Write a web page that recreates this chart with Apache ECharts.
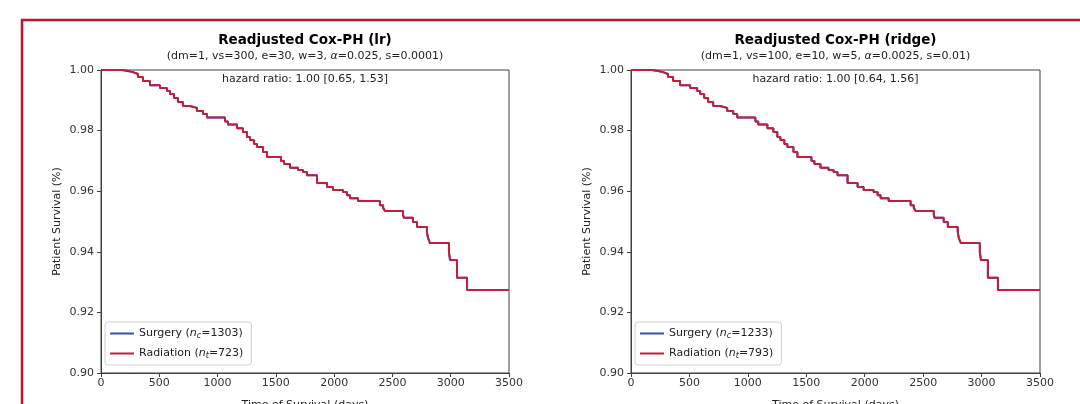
<!DOCTYPE html>
<html>
<head>
<meta charset="utf-8">
<script src="https://cdn.jsdelivr.net/npm/echarts@6/dist/echarts.min.js"></script>
<style>
  html, body { margin: 0; padding: 0; background: #fff; }
  #main { width: 1080px; height: 404px; }
</style>
</head>
<body>
<div id="main"></div>
<script>
// survival curve (time in days)
var survTimes = [0, 180, 232, 274, 317, 360, 420, 506, 566, 592, 626, 660, 703, 763, 823, 875, 909,
    1064, 1089, 1167, 1218, 1252, 1278, 1312, 1338, 1390, 1424, 1544, 1570, 1621, 1690, 1733, 1767,
    1853, 1939, 1990, 2076, 2110, 2136, 2205, 2393, 2420, 2436, 2591, 2599, 2676, 2711, 2796, 2805,
    2822, 2985, 2994, 3054, 3140, 3500];
var radiationSurv = [1.000, 0.9997, 0.9993, 0.9987, 0.9977, 0.9964, 0.9950, 0.9941, 0.9931, 0.9921,
    0.9908, 0.9894, 0.9881, 0.9875, 0.9865, 0.9855, 0.9843, 0.9830, 0.9820, 0.9808, 0.9795, 0.9779,
    0.9769, 0.9756, 0.9746, 0.9729, 0.9713, 0.9700, 0.9690, 0.9677, 0.9670, 0.9663, 0.9653, 0.9627,
    0.9614, 0.9604, 0.9597, 0.9587, 0.9577, 0.9568, 0.9554, 0.9545, 0.9535, 0.9522, 0.9512, 0.9498,
    0.9482, 0.9465, 0.9446, 0.9429, 0.9399, 0.9373, 0.9314, 0.9274, 0.9274];
// surgery curve sits right under the radiation one
var surgerySurv = radiationSurv.slice();

var xTicks = [0, 500, 1000, 1500, 2000, 2500, 3000, 3500];
var yTicks = [0.90, 0.92, 0.94, 0.96, 0.98, 1.00];

var panelTitles = ['Readjusted Cox-PH (lr)', 'Readjusted Cox-PH (ridge)'];
var panelParams = ['(dm=1, vs=300, e=30, w=3, {i|α}=0.025, s=0.0001)',
                   '(dm=1, vs=100, e=10, w=5, {i|α}=0.0025, s=0.01)'];
var hazardText = ['hazard ratio: 1.00 [0.65, 1.53]', 'hazard ratio: 1.00 [0.64, 1.56]'];
var nSurgery = [1303, 1233];
var nRadiation = [723, 793];

var FONT = 'DejaVu Sans';
var AXIS_COLOR = '#404040';
var BLUE = '#3b4cc0';
var RED = '#c41e3a';

function pairs(xs, ys) {
    var out = [];
    for (var i = 0; i < xs.length; i++) {
        out.push([xs[i], ys[i]]);
    }
    return out;
}

function drawChart() {
    var dom = document.getElementById('main');
    var chart = echarts.init(dom, null, { renderer: 'canvas' });

    var panels = [
        { left: 101, width: 408, cx: 305 },
        { left: 631, width: 409, cx: 835.5 }
    ];

    var grids = [], xAxes = [], yAxes = [], series = [], legends = [], graphics = [];

    // red frame around the figure
    graphics.push({
        type: 'rect',
        shape: { x: 22, y: 20, width: 1100, height: 420 },
        style: { fill: 'none', stroke: '#c8102e', lineWidth: 2.5 },
        z: 10
    });

    for (var p = 0; p < panels.length; p++) {
        var pn = panels[p];
        grids.push({
            left: pn.left, top: 70, width: pn.width, height: 303,
            containLabel: false, outerBoundsMode: 'none',
            show: true, borderColor: AXIS_COLOR, borderWidth: 1, backgroundColor: '#fff'
        });
        xAxes.push({
            type: 'value', gridIndex: p, min: 0, max: 3500, interval: 500,
            name: 'Time of Survival (days)', nameLocation: 'middle', nameGap: 27,
            nameTextStyle: { fontFamily: FONT, fontSize: 11, color: '#222' },
            axisLine: { show: true, onZero: false, lineStyle: { color: AXIS_COLOR, width: 1 } },
            axisTick: { show: true, length: 4, lineStyle: { color: AXIS_COLOR } },
            axisLabel: { fontFamily: FONT, fontSize: 11, color: '#333', margin: 5,
                formatter: function (v) { return String(v); } },
            splitLine: { show: false }
        });
        yAxes.push({
            type: 'value', gridIndex: p, min: 0.90, max: 1.00, interval: 0.02,
            name: 'Patient Survival (%)', nameLocation: 'middle', nameGap: 38,
            nameTextStyle: { fontFamily: FONT, fontSize: 11, color: '#222' },
            axisLine: { show: true, onZero: false, lineStyle: { color: AXIS_COLOR, width: 1 } },
            axisTick: { show: true, length: 4, lineStyle: { color: AXIS_COLOR } },
            axisLabel: { fontFamily: FONT, fontSize: 11, color: '#333', margin: 7,
                formatter: function (v) { return v.toFixed(2); } },
            splitLine: { show: false }
        });

        var sName = 'Surgery ' + p;
        var rName = 'Radiation ' + p;
        series.push({
            name: sName, type: 'line', step: 'end', xAxisIndex: p, yAxisIndex: p,
            symbol: 'none', showSymbol: false, animation: false,
            lineStyle: { color: BLUE, width: 2 }, itemStyle: { color: BLUE },
            data: pairs(survTimes, surgerySurv), z: 2
        });
        series.push({
            name: rName, type: 'line', step: 'end', xAxisIndex: p, yAxisIndex: p,
            symbol: 'none', showSymbol: false, animation: false,
            lineStyle: { color: RED, width: 2 }, itemStyle: { color: RED },
            data: pairs(survTimes, radiationSurv), z: 3
        });

        (function (idx) {
            legends.push({
                data: [sName, rName],
                orient: 'vertical',
                left: pn.left + 4, top: 322,
                padding: [5, 8, 5, 5],
                itemGap: 7,
                icon: 'rect',
                itemWidth: 24, itemHeight: 2,
                backgroundColor: 'rgba(255,255,255,0.8)',
                borderColor: '#d0d0d0', borderWidth: 1, borderRadius: 3,
                textStyle: {
                    fontFamily: FONT, fontSize: 11, color: '#222',
                    rich: {
                        t: { fontFamily: FONT, fontSize: 11, color: '#222', lineHeight: 13 },
                        i: { fontFamily: FONT, fontSize: 11, color: '#222', fontStyle: 'italic', lineHeight: 13 },
                        s: { fontFamily: FONT, fontSize: 8, color: '#222', fontStyle: 'italic',
                             padding: [5, 0, 0, 0], lineHeight: 13 }
                    }
                },
                formatter: function (name) {
                    if (name.indexOf('Surgery') === 0) {
                        return '{t|Surgery (}{i|n}{s|c}{t|=' + nSurgery[idx] + ')}';
                    }
                    return '{t|Radiation (}{i|n}{s|t}{t|=' + nRadiation[idx] + ')}';
                }
            });
        })(p);

        // title + parameters
        graphics.push({
            type: 'text', x: pn.cx, y: 40, z: 20,
            style: { text: panelTitles[p], fontFamily: FONT, fontSize: 13.5, fontWeight: 'bold',
                fill: '#000', textAlign: 'center', textVerticalAlign: 'middle' }
        });
        graphics.push({
            type: 'text', x: pn.cx, y: 56, z: 20,
            style: { text: panelParams[p], fontFamily: FONT, fontSize: 11, fill: '#222',
                textAlign: 'center', textVerticalAlign: 'middle',
                rich: { i: { fontFamily: FONT, fontSize: 11, fontStyle: 'italic', fill: '#222' } } }
        });
        graphics.push({
            type: 'text', x: pn.cx, y: 79, z: 20,
            style: { text: hazardText[p], fontFamily: FONT, fontSize: 11, fill: '#222',
                textAlign: 'center', textVerticalAlign: 'middle' }
        });
    }

    var option = {
        animation: false,
        backgroundColor: '#fff',
        grid: grids,
        xAxis: xAxes,
        yAxis: yAxes,
        legend: legends,
        series: series,
        graphic: graphics
    };

    if (option && typeof option === 'object') {
        chart.setOption(option, true);
    }
}

drawChart();
</script>
</body>
</html>
